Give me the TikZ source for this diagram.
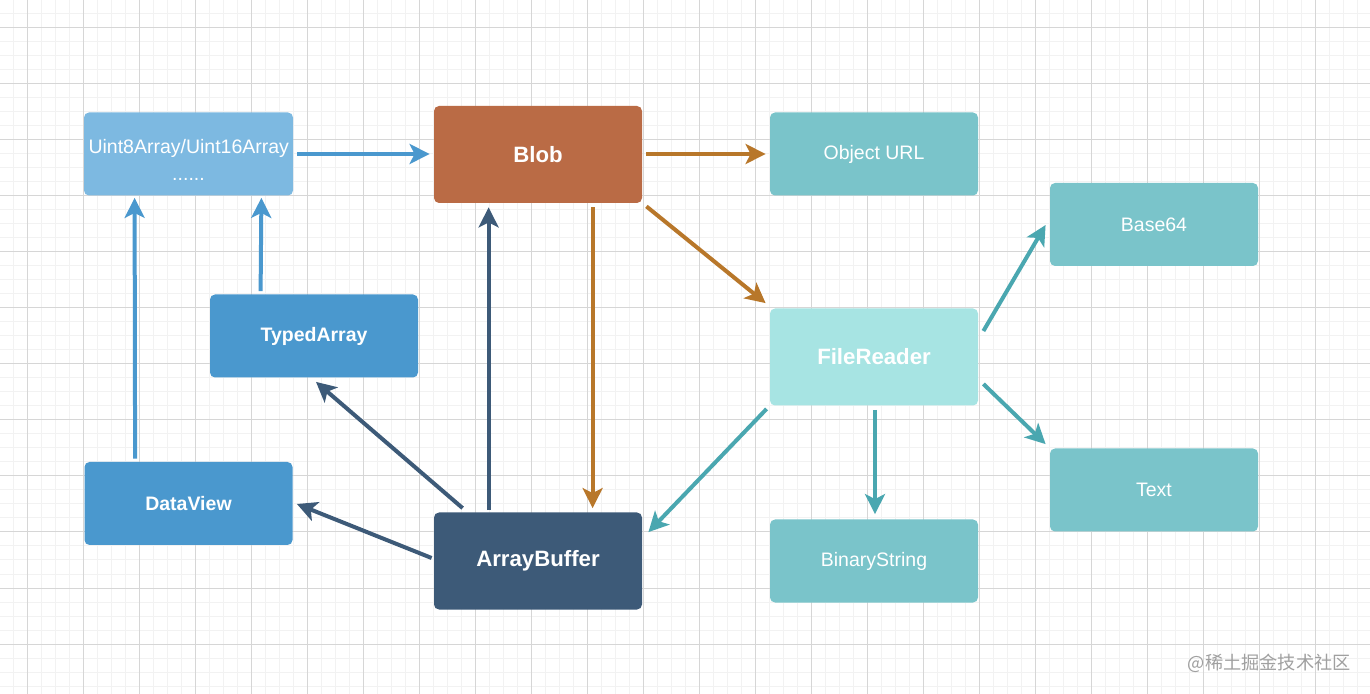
\documentclass[tikz,border=0pt]{standalone}
\usepackage{fontspec}
\setmainfont{Liberation Sans}
\newfontfamily\cjk{Noto Sans CJK SC}
\usetikzlibrary{arrows.meta,calc}
\definecolor{gridminor}{HTML}{F2F2F2}
\definecolor{gridmajor}{HTML}{D6D6D6}
\definecolor{lightblue}{HTML}{7DB9E1}
\definecolor{midblue}{HTML}{4A98CE}
\definecolor{darkblue}{HTML}{3D5A78}
\definecolor{blobc}{HTML}{BA6B45}
\definecolor{tealc}{HTML}{7AC4CA}
\definecolor{frc}{HTML}{A7E4E3}
\definecolor{orangea}{HTML}{B8772A}
\definecolor{teala}{HTML}{4AA7B0}
\definecolor{wm}{HTML}{A0A0A0}
\tikzset{
  box/.style={rectangle, rounded corners=2.5pt, draw=none, text=white, inner sep=0pt, align=center},
  smallbox/.style={box, minimum width=104pt, minimum height=41.5pt, font=\fontsize{9.75}{13.5}\selectfont},
  bigbox/.style={box, minimum width=104pt, minimum height=48.5pt, font=\fontsize{11.1}{13.5}\selectfont\bfseries},
  conn/.style={line width=2pt, -{Stealth[length=10pt, width=10pt, inset=2.5pt]}},
}
\begin{document}
\begin{tikzpicture}[x=0.5pt, y=-0.5pt]
\useasboundingbox (0,0) rectangle (1370,694);
\fill[white] (0,0) rectangle (1370,694);
% grid
\foreach \gx in {13,27,...,1369} \draw[gridminor, line width=0.5pt] (\gx,0) -- (\gx,694);
\foreach \gy in {0,14,...,694} \draw[gridminor, line width=0.5pt] (0,\gy) -- (1370,\gy);
\foreach \gx in {27,83,...,1369} \draw[gridmajor, line width=0.5pt] (\gx,0) -- (\gx,694);
\foreach \gy in {28,84,...,694} \draw[gridmajor, line width=0.5pt] (0,\gy) -- (1370,\gy);

% nodes
\node[smallbox, fill=lightblue, minimum width=104.5pt, text depth=0pt] (u8) at (188.5,154) {\raisebox{1.5pt}{\parbox{100pt}{\centering Uint8Array/Uint16Array\\......}}};
\node[bigbox, fill=blobc] (blob) at (538,154.5) {Blob};
\node[smallbox, fill=tealc] (obj) at (874,154) {Object URL};
\node[smallbox, fill=tealc] (b64) at (1154,224.5) {Base64};
\node[bigbox, fill=frc] (fr) at (874,357) {FileReader};
\node[smallbox, fill=tealc] (txt) at (1154,490) {Text};
\node[smallbox, fill=tealc] (bin) at (874,561) {BinaryString};
\node[bigbox, fill=darkblue] (ab) at (538,561) {ArrayBuffer};
\node[smallbox, fill=midblue, font=\fontsize{9.75}{13.5}\selectfont\bfseries] (typed) at (314,336) {TypedArray};
\node[smallbox, fill=midblue, font=\fontsize{9.75}{13.5}\selectfont\bfseries] (dv) at (188.5,503.5) {DataView};

% connectors
\draw[conn, midblue] ($(u8.east)+(4,0)$) -- ($(blob.west)+(-4,-0.5)$);
\draw[conn, midblue] ($(typed.north west)+(51,-3)$) -- ($(u8.south east)+(-32,2)$);
\draw[conn, midblue] ($(dv.north west)+(51,-3)$) -- ($(u8.south west)+(51,2)$);
\draw[conn, darkblue] ($(ab.north west)+(29,-4)$) -- ($(typed.south)+(2,4)$);
\draw[conn, darkblue] ($(ab.west)+(-2,-3)$) -- ($(dv.east)+(4,0.5)$);
\draw[conn, darkblue] ($(ab.north west)+(55,-2)$) -- ($(blob.south west)+(55,4)$);
\draw[conn, orangea] ($(blob.south west)+(159,4)$) -- ($(ab.north west)+(159,-4)$);
\draw[conn, orangea] ($(blob.east)+(4,-0.5)$) -- ($(obj.west)+(-4,0)$);
\draw[conn, orangea] ($(blob.south east)+(4,3)$) -- ($(fr.north west)+(-4,-5)$);
\draw[conn, teala] ($(fr.east)+(5,-26)$) -- ($(b64.west)+(-4,0.5)$);
\draw[conn, teala] ($(fr.east)+(5,27)$) -- ($(txt.north west)+(-4,-4)$);
\draw[conn, teala] ($(fr.south)+(1,4)$) -- ($(bin.north)+(1,-5)$);
\draw[conn, teala] ($(fr.south west)+(-3,3)$) -- ($(ab.north east)+(6,20)$);

% watermark
\node[text=wm, font=\cjk\fontsize{9.1}{11}\selectfont, anchor=east, inner sep=0pt] (wmk) at (1351,663) {@稀土掘金技术社区};
\end{tikzpicture}
\end{document}
